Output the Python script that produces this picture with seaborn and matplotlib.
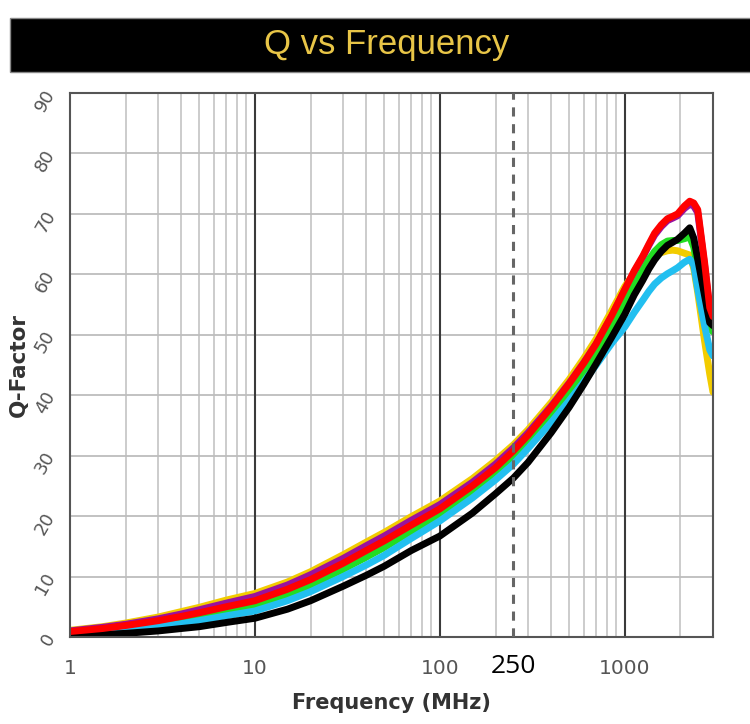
import numpy as np
import pandas as pd
import matplotlib
matplotlib.use("Agg")
import matplotlib.pyplot as plt
from matplotlib.patches import Rectangle
from matplotlib.ticker import LogLocator, NullFormatter
from matplotlib.transforms import ScaledTranslation
import seaborn as sns

# frequency points (MHz)
freq = [1, 1.5, 2, 3, 4, 5, 7, 10, 15, 20, 30, 40, 50, 70, 100, 150, 200, 250, 300, 400,
        500, 600, 700, 850, 1000, 1125, 1250, 1350, 1450, 1575, 1700, 1815, 1930, 2100,
        2245, 2360, 2480, 2700, 2880, 3000]

q_yellow = [1.1, 1.7, 2.3, 3.3, 4.2, 4.9, 6.1, 7.2, 9.1, 10.8, 13.6, 15.7, 17.3, 19.9, 22.5,
            26.2, 29.2, 31.8, 34.3, 38.8, 42.6, 46.1, 49.3, 54.0, 58.0, 60.2, 61.8, 62.6,
            63.2, 63.6, 63.9, 64.0, 63.9, 63.5, 63.2, 61.0, 57.0, 49.0, 43.5, 40.5]
q_purple = [1.0, 1.6, 2.1, 3.0, 3.8, 4.5, 5.6, 6.7, 8.6, 10.3, 13.0, 15.1, 16.7, 19.3, 21.9,
            25.6, 28.6, 31.3, 33.8, 38.2, 42.0, 45.4, 48.5, 53.1, 57.4, 60.4, 62.8, 64.8,
            66.5, 67.9, 68.9, 69.3, 69.7, 70.9, 71.6, 71.3, 70.2, 61.5, 54.0, 52.5]
q_green = [0.7, 1.1, 1.4, 2.1, 2.7, 3.3, 4.3, 5.2, 7.0, 8.6, 11.2, 13.2, 14.8, 17.5, 20.2,
           24.0, 27.0, 29.6, 32.2, 36.6, 40.5, 43.9, 47.1, 51.4, 55.2, 58.2, 60.6, 62.4,
           63.8, 64.9, 65.5, 65.6, 65.6, 65.9, 66.2, 64.5, 61.0, 55.0, 51.0, 50.5]
q_cyan = [0.5, 0.8, 1.1, 1.7, 2.2, 2.7, 3.5, 4.3, 6.0, 7.5, 10.0, 11.9, 13.5, 16.3, 19.2,
          23.0, 26.0, 28.6, 31.2, 35.5, 39.1, 42.2, 45.0, 48.6, 51.3, 53.7, 55.7, 57.2,
          58.4, 59.4, 60.1, 60.6, 61.1, 62.0, 62.5, 61.5, 57.5, 51.5, 47.5, 46.5]
q_black = [0.3, 0.4, 0.6, 1.0, 1.4, 1.7, 2.4, 3.1, 4.6, 6.0, 8.4, 10.2, 11.7, 14.3, 16.7,
           20.5, 23.7, 26.3, 28.9, 33.8, 38.0, 41.8, 45.2, 49.6, 53.4, 56.6, 59.0, 60.9,
           62.4, 63.8, 64.8, 65.3, 65.8, 66.8, 67.7, 66.0, 62.5, 56.5, 52.0, 51.5]
q_red = [0.9, 1.4, 1.9, 2.7, 3.4, 4.0, 5.0, 6.0, 7.9, 9.5, 12.2, 14.3, 15.9, 18.5, 21.2,
         25.0, 28.0, 30.8, 33.4, 38.0, 41.9, 45.3, 48.5, 53.2, 57.5, 60.6, 63.0, 65.0,
         66.8, 68.2, 69.2, 69.6, 70.0, 71.3, 72.1, 71.8, 70.7, 62.0, 54.5, 53.0]

series = ["Yellow", "Purple", "Green", "Cyan", "Black", "Red"]
colors = ["#f2cc00", "#9a129e", "#22dd22", "#22bff0", "#000000", "#ff0000"]
values = [q_yellow, q_purple, q_green, q_cyan, q_black, q_red]

rows = []
for name, vals in zip(series, values):
    for f, q in zip(freq, vals):
        rows.append({"Frequency": f, "Q": q, "Part": name})
df = pd.DataFrame(rows)

sns.set_style("white")
fig = plt.figure(figsize=(7.5, 7.24), dpi=100)
ax = fig.add_axes([0.0933, 0.1202, 0.8574, 0.7513])

sns.lineplot(data=df, x="Frequency", y="Q", hue="Part", hue_order=series,
             palette=colors, linewidth=5, estimator=None, sort=False,
             legend=False, ax=ax)

ax.set_xscale("log")
ax.set_xlim(1, 3000)
ax.set_ylim(0, 90)

# grid: light minor lines, dark decade lines (none at the 250 tick)
ax.xaxis.set_minor_locator(LogLocator(base=10, subs=np.arange(2, 10)))
ax.xaxis.set_minor_formatter(NullFormatter())
ax.grid(which="minor", axis="x", color="#c4c4c4", linewidth=1.2)
ax.grid(which="major", axis="y", color="#bdbdbd", linewidth=1.3)
for dec in [10, 100, 1000]:
    ax.axvline(dec, color="#3a3a3a", linewidth=1.5, zorder=1)
ax.set_axisbelow(True)

ax.axvline(250, color="#666666", linestyle=(0, (3, 2.5)), linewidth=2.2, zorder=5)

ax.set_xticks([1, 10, 100, 250, 1000])
ax.set_xticklabels(["1", "10", "100", "250", "1000"])
ax.set_yticks(range(0, 91, 10))

ax.tick_params(axis="both", which="both", direction="out", color="#555555",
               labelcolor="#555555")
ax.tick_params(axis="x", which="major", length=6, width=1.5, pad=10, labelsize=14.5)
ax.tick_params(axis="x", which="minor", length=4, width=1)
ax.tick_params(axis="y", which="major", length=6, width=1.2, pad=2, labelsize=13)
for lab in ax.get_yticklabels():
    lab.set_rotation(60)
for lab in ax.get_xticklabels():
    if lab.get_text() == "250":
        lab.set_fontsize(19)
        lab.set_color("black")
        lab.set_family("Open Sans")
        lab.set_transform(lab.get_transform() + ScaledTranslation(0, 4 / 72, fig.dpi_scale_trans))

for side in ["left", "bottom", "top", "right"]:
    ax.spines[side].set_color("#555555")
    ax.spines[side].set_linewidth(1.5)

ax.set_xlabel("Frequency (MHz)", fontsize=15, fontweight="bold", color="#333333", labelpad=10)
ax.set_ylabel("Q-Factor", fontsize=15.5, fontweight="bold", color="#333333", labelpad=2)

# title bar
fig.add_artist(Rectangle((0.0133, 0.9006), 0.99, 0.0746, transform=fig.transFigure,
                         facecolor="black", edgecolor="#888888", linewidth=1))
fig.text(0.516, 0.938, "Q vs Frequency", color="#e8c547", fontsize=25,
         ha="center", va="center", family=["Liberation Sans Narrow", "Liberation Sans"])

fig.savefig("out.png", dpi=100)
